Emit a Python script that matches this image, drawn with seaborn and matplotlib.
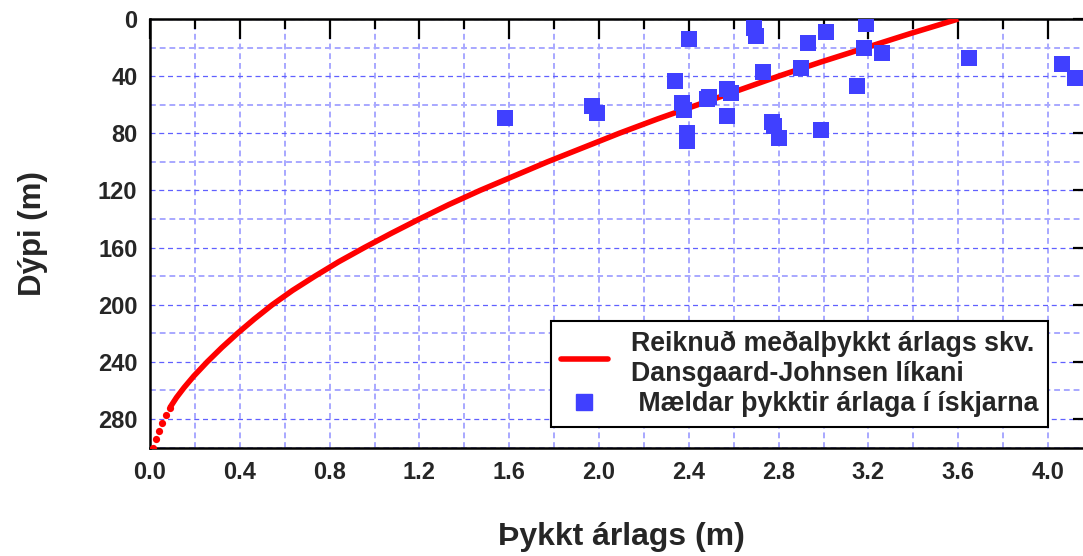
import numpy as np
import matplotlib
matplotlib.use("Agg")
import matplotlib.pyplot as plt
import seaborn as sns
from matplotlib.ticker import MultipleLocator
from matplotlib.lines import Line2D

# Dansgaard-Johnsen model curve
model_depth = [0, 10, 20, 30, 40, 50, 60, 70, 80, 90, 100, 110, 120, 130, 140,
               150, 160, 170, 180, 190, 200, 210, 220, 230, 240, 250, 258, 265, 272]
model_thick = [3.60, 3.39, 3.19, 2.99, 2.80, 2.62, 2.44, 2.26, 2.09, 1.93, 1.77,
               1.62, 1.47, 1.33, 1.20, 1.075, 0.955, 0.84, 0.735, 0.635, 0.545,
               0.465, 0.39, 0.32, 0.255, 0.195, 0.152, 0.118, 0.089]

# dotted tail of the model near the bed
tail_depth = [272, 277.3, 282.9, 288.5, 294.1, 300]
tail_thick = [0.089, 0.071, 0.055, 0.040, 0.027, 0.015]

# measured annual layer thickness in ice cores
meas_thick = [1.58, 1.97, 1.99, 2.40, 2.34, 2.37, 2.38, 2.39, 2.39, 2.48, 2.49,
              2.57, 2.59, 2.57, 2.69, 2.70, 2.73, 2.77, 2.78, 2.80, 2.90, 2.93,
              3.01, 2.99, 3.19, 3.18, 3.26, 3.15, 3.65, 4.06, 4.12]
meas_depth = [69.1, 60.9, 65.6, 14.0, 43.2, 58.6, 63.7, 80.0, 85.2, 56.2, 54.4,
              49.0, 51.8, 67.7, 6.1, 11.7, 36.9, 72.1, 74.7, 83.1, 34.3, 16.6,
              8.9, 77.5, 3.3, 20.1, 23.6, 46.7, 27.1, 31.3, 41.1]

model_label = "Reiknuð meðalþykkt árlags skv.\nDansgaard-Johnsen líkani"
meas_label = " Mældar þykktir árlaga í ískjarna"

sns.set_theme(style="white")
plt.rcParams["font.family"] = ["Liberation Sans", "DejaVu Sans"]
plt.rcParams["font.weight"] = "bold"

fig = plt.figure(figsize=(10.83, 5.56), dpi=100)
ax = fig.add_axes([0.1385, 0.1951, 0.8707, 0.7707])

sns.lineplot(x=model_thick, y=model_depth, sort=False, estimator=None,
             color="#ff0000", lw=4, ax=ax, zorder=3,
             solid_joinstyle="round", solid_capstyle="butt")
sns.lineplot(x=tail_thick, y=tail_depth, sort=False, estimator=None,
             color="#ff0000", lw=0, marker="o", markersize=5.2,
             markeredgewidth=0, ax=ax, zorder=3)
sns.scatterplot(x=meas_thick, y=meas_depth, marker="s", s=135,
                color="#4040ff", linewidth=0, ax=ax, zorder=4)

ax.set_xlim(0, 4.2)
ax.set_ylim(300, 0)

ax.xaxis.set_minor_locator(MultipleLocator(0.2))
ax.yaxis.set_major_locator(MultipleLocator(40))
ax.yaxis.set_minor_locator(MultipleLocator(20))
xt = np.arange(0, 4.01, 0.4)
ax.set_xticks(xt)
ax.set_xticklabels([f"{v:.1f}" for v in xt])

ax.tick_params(which="both", direction="in", top=True, right=True,
               width=1.6, color="black")
ax.tick_params(which="major", length=14.4, labelsize=17, pad=10)
ax.tick_params(which="minor", length=7.2)
ax.tick_params(axis="y", which="major", pad=9)
for lab in ax.get_xticklabels() + ax.get_yticklabels():
    lab.set_fontweight("bold")

ax.grid(which="major", axis="y", color="#6060ff", ls=(0, (4, 3)), lw=0.9)
ax.grid(which="minor", axis="y", color="#a8a8ff", ls=(0, (3, 2)), lw=1.4)
ax.grid(which="both", axis="x", color="#a8a8ff", ls=(0, (3, 2)), lw=1.4)
ax.set_axisbelow(True)

for sp in ax.spines.values():
    sp.set_color("black")
    sp.set_linewidth(1.8)

ax.set_xlabel("Þykkt árlags (m)", fontsize=23, fontweight="bold", labelpad=27)
ax.set_ylabel("Dýpi (m)", fontsize=22.5, fontweight="bold", labelpad=36)

handles = [Line2D([], [], color="#ff0000", lw=4),
           Line2D([], [], color="#4040ff", marker="s", markersize=12, lw=0)]
leg = ax.legend(handles, [model_label, meas_label], loc="lower right",
                bbox_to_anchor=(0.952, 0.048), borderaxespad=0,
                fancybox=False, framealpha=1, edgecolor="black",
                prop={"size": 19.3, "weight": "bold"}, handlelength=1.75,
                handletextpad=0.85, borderpad=0.36, labelspacing=0.17)
leg.get_frame().set_linewidth(1.5)

fig.savefig("out.png", dpi=100)
